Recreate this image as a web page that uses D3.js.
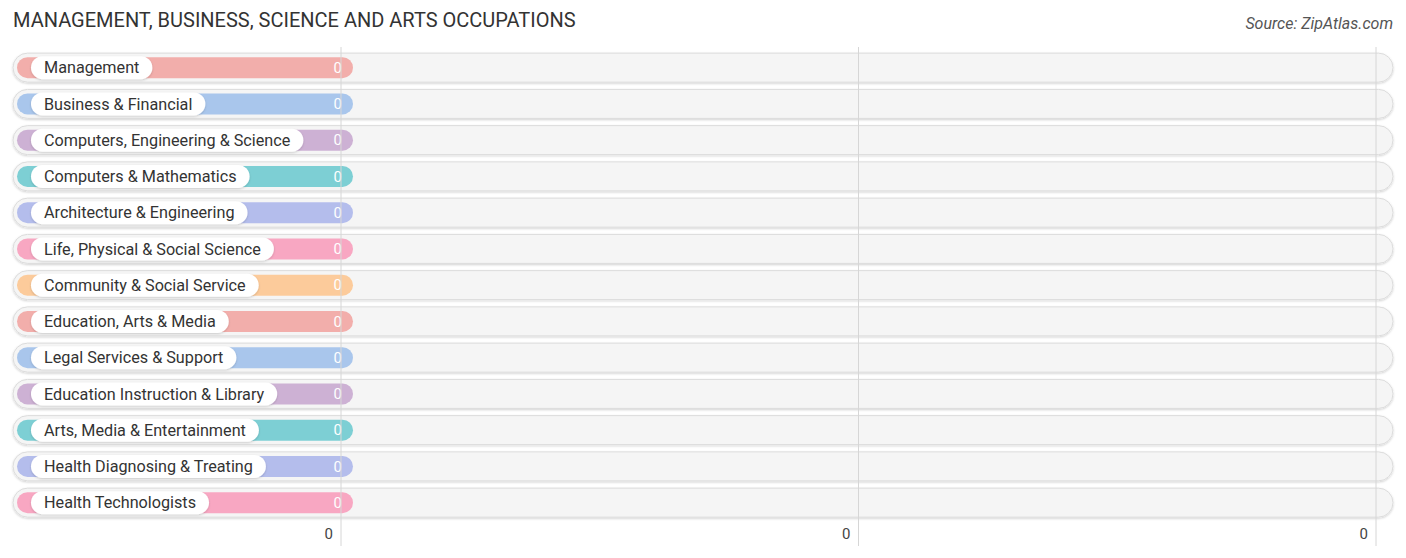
<!DOCTYPE html>
<html>
<head>
<meta charset="utf-8">
<script src="https://cdn.jsdelivr.net/npm/d3@7"></script>
<style>
  body { margin: 0; background: #fff; }
  svg { display: block; }
</style>
</head>
<body>
<script>
const categories = ["Management", "Business & Financial", "Computers, Engineering & Science",
  "Computers & Mathematics", "Architecture & Engineering", "Life, Physical & Social Science",
  "Community & Social Service", "Education, Arts & Media", "Legal Services & Support",
  "Education Instruction & Library", "Arts, Media & Entertainment", "Health Diagnosing & Treating",
  "Health Technologists"];
const values = [0, 0, 0, 0, 0, 0, 0, 0, 0, 0, 0, 0, 0];
const colors = ["#f2aeab", "#a9c6ec", "#cdb1d4", "#7dcfd4", "#b4bdec", "#f8a7c2", "#fccb9b",
  "#f2aeab", "#a9c6ec", "#cdb1d4", "#7dcfd4", "#b4bdec", "#f8a7c2"];
const tickValues = [0, 0.5, 1];
const tickLabels = ["0", "0", "0"];

const width = 1406, height = 558;
const font = "Roboto, 'Open Sans', sans-serif";

const svg = d3.select("body").append("svg")
  .attr("width", width)
  .attr("height", height);

const defs = svg.append("defs");
const shadow = defs.append("filter").attr("id", "shadow")
  .attr("x", "-5%").attr("y", "-30%").attr("width", "110%").attr("height", "160%");
shadow.append("feDropShadow").attr("dx", 0).attr("dy", 1).attr("stdDeviation", 1.2)
  .attr("flood-color", "#000").attr("flood-opacity", 0.18);

var x = d3.scaleLinear()
  .domain([0, 1])
  .range([341, 1376]);

var y = d3.scaleBand()
  .domain(categories)
  .range([49.5, 49.5 + categories.length * 36.25]);

// title + source
svg.append("text")
  .attr("x", 13).attr("y", 27)
  .style("font", `20px ${font}`)
  .attr("fill", "#333")
  .text("MANAGEMENT, BUSINESS, SCIENCE AND ARTS OCCUPATIONS");

svg.append("text")
  .attr("x", 1393).attr("y", 29)
  .attr("text-anchor", "end")
  .style("font", `italic 16px ${font}`)
  .attr("fill", "#555")
  .text("Source: ZipAtlas.com");

const rowH = 29, barH = 21, left = 13, right = 1393;

const rows = svg.append("g")
  .selectAll("g")
  .data(categories)
  .join("g")
    .attr("transform", d => `translate(0,${y(d) + y.bandwidth() / 2})`);

// background pills
rows.append("rect")
  .attr("x", left)
  .attr("y", -rowH / 2)
  .attr("width", right - left)
  .attr("height", rowH)
  .attr("rx", rowH / 2)
  .attr("fill", "#f5f5f5")
  .attr("stroke", "#dcdcdc")
  .attr("stroke-width", 1)
  .attr("filter", "url(#shadow)");

// grid lines
svg.append("g")
  .selectAll("line")
  .data(tickValues)
  .join("line")
    .attr("x1", d => x(d)).attr("x2", d => x(d))
    .attr("y1", 47).attr("y2", 546)
    .attr("stroke", "#d6d6d6")
    .attr("stroke-width", 1);

// bars (zero values get minimum visible length past the axis)
rows.append("rect")
  .attr("x", left + 4)
  .attr("y", -barH / 2)
  .attr("width", (d, i) => x(values[i]) + 12 - (left + 4))
  .attr("height", barH)
  .attr("rx", barH / 2)
  .attr("fill", (d, i) => colors[i]);

// label pills
const labels = rows.append("g");
labels.append("text")
  .attr("x", 44)
  .attr("y", 0)
  .attr("dy", "0.35em")
  .style("font", `16.2px ${font}`)
  .attr("fill", "#333")
  .text(d => d);

labels.insert("rect", "text")
  .each(function() {
    const t = d3.select(this.parentNode).select("text").node();
    const w = t.getComputedTextLength();
    d3.select(this)
      .attr("x", 31)
      .attr("y", -11.5)
      .attr("width", w + 13 + 13)
      .attr("height", 23)
      .attr("rx", 11.5);
  })
  .attr("fill", "#fff")
  .attr("filter", "url(#shadow)");

// value labels
rows.append("text")
  .attr("x", (d, i) => x(values[i]) + 1)
  .attr("y", 0)
  .attr("dy", "0.35em")
  .attr("text-anchor", "end")
  .style("font", `15px ${font}`)
  .attr("fill", "#fff")
  .text((d, i) => values[i]);

// axis tick labels
svg.append("g")
  .selectAll("text")
  .data(tickValues)
  .join("text")
    .attr("x", d => x(d) - 8)
    .attr("y", 539)
    .attr("text-anchor", "end")
    .style("font", `15px ${font}`)
    .attr("fill", "#444")
    .text((d, i) => tickLabels[i]);
</script>
</body>
</html>
